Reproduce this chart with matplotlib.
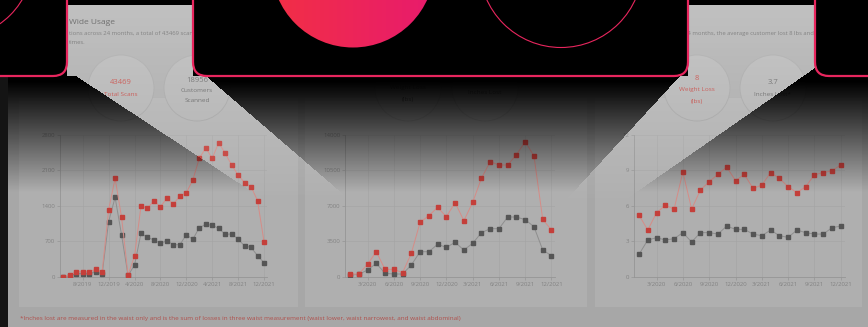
import numpy as np
import matplotlib
matplotlib.use("Agg")
import matplotlib.pyplot as plt
from matplotlib.patches import FancyBboxPatch, Rectangle, Circle
from matplotlib.path import Path

plt.rcParams['font.family'] = ['Open Sans', 'DejaVu Sans']

# ---------------- data ----------------
months_scans = ["5/2019", "6/2019", "7/2019", "8/2019", "9/2019", "10/2019", "11/2019", "12/2019",
                "1/2020", "2/2020", "3/2020", "4/2020", "5/2020", "6/2020", "7/2020", "8/2020",
                "9/2020", "10/2020", "11/2020", "12/2020", "1/2021", "2/2021", "3/2021", "4/2021",
                "5/2021", "6/2021", "7/2021", "8/2021", "9/2021", "10/2021", "11/2021", "12/2021"]
scans_total = [0, 30, 100, 100, 100, 145, 100, 1318, 1943, 1173, 33, 408, 1397, 1350, 1502, 1384,
               1548, 1436, 1594, 1660, 1911, 2339, 2543, 2339, 2648, 2438, 2207, 2009, 1858, 1779,
               1502, 692]
scans_customers = [0, 20, 60, 60, 55, 100, 55, 1087, 1568, 823, 25, 230, 856, 777, 725, 659,
                   711, 632, 632, 830, 738, 968, 1034, 1015, 955, 837, 843, 744, 606, 580, 415, 277]
scans_ticks = ["8/2019", "12/2019", "4/2020", "8/2020", "12/2020", "4/2021", "8/2021", "12/2021"]

months_loss = ["1/2020", "2/2020", "3/2020", "4/2020", "5/2020", "6/2020", "7/2020", "8/2020",
               "9/2020", "10/2020", "11/2020", "12/2020", "1/2021", "2/2021", "3/2021", "4/2021",
               "5/2021", "6/2021", "7/2021", "8/2021", "9/2021", "10/2021", "11/2021", "12/2021"]
weight_total = [264, 264, 1219, 2470, 725, 725, 395, 2306, 5369, 6028, 6852, 5929, 7313, 5534,
                7346, 9718, 11365, 11035, 11035, 12056, 13341, 11925, 5666, 4612]
inches_total = [165, 230, 659, 1318, 330, 264, 264, 1153, 2470, 2470, 3195, 2899, 3393, 2635,
                3294, 4348, 4744, 4744, 5896, 5896, 5633, 4941, 2635, 2075]
weight_avg = [5.22, 3.95, 5.42, 6.04, 5.73, 8.87, 5.73, 7.34, 8.05, 8.67, 9.29, 8.13, 8.67, 7.48,
              7.76, 8.81, 8.33, 7.62, 7.12, 7.62, 8.64, 8.81, 8.98, 9.46]
inches_avg = [1.89, 3.11, 3.30, 3.11, 3.22, 3.73, 2.94, 3.73, 3.73, 3.61, 4.29, 4.01, 4.01, 3.61,
              3.47, 3.95, 3.47, 3.33, 3.95, 3.73, 3.61, 3.61, 4.15, 4.29]
loss_ticks = ["3/2020", "6/2020", "9/2020", "12/2020", "3/2021", "6/2021", "9/2021", "12/2021"]

yticks_scans = [0, 700, 1400, 2100, 2800]
yticks_weight = [0, 3500, 7000, 10500, 14000]
yticks_avg = [0, 3, 6, 9, 12]

# ---------------- figure ----------------
W, H = 868, 327
fig = plt.figure(figsize=(W / 100, H / 100), dpi=100)
fig.patch.set_facecolor('#a7a7a7')

bg = fig.add_axes([0, 0, 1, 1], zorder=0)
bg.set_xlim(0, W); bg.set_ylim(H, 0); bg.axis('off')

PINK = '#e8265e'
# panels
for (x0, x1) in [(19, 298), (305, 587), (595, 862)]:
    bg.add_patch(Rectangle((x0, 98), x1 - x0, 209, fc='#afafaf', ec='none'))

# header texts (partly hidden behind boxes)
bg.text(69, 23, "Wide Usage", fontsize=6, color='#3c3c3c', va='center')
bg.text(69, 34, "tions across 24 months, a total of 43469 scans were performed by",
        fontsize=4.2, color='#5a5a5a', va='center')
bg.text(69, 43, "times.", fontsize=4.2, color='#5a5a5a', va='center')
bg.text(684, 34, "24 months, the average customer lost 8 lbs and 3.7 inches",
        fontsize=4.2, color='#5a5a5a', va='center')

# stat circles
for cx in [121, 197, 408, 485, 697, 773]:
    bg.add_patch(Circle((cx, 88), 33, fc='#b0b0b0', ec='#a0a0a0', lw=0.6))
RED_T = '#c0413c'
GRY_T = '#5e5e5e'
bg.text(121, 82, "43469", fontsize=5.5, color=RED_T, ha='center', va='center')
bg.text(121, 94, "Total Scans", fontsize=4.6, color=RED_T, ha='center', va='center')
bg.text(197, 80, "18956", fontsize=5.5, color=GRY_T, ha='center', va='center')
bg.text(197, 90, "Customers", fontsize=4.6, color=GRY_T, ha='center', va='center')
bg.text(197, 100, "Scanned", fontsize=4.6, color=GRY_T, ha='center', va='center')
bg.text(408, 88, "Weight Loss", fontsize=4.6, color=GRY_T, ha='center', va='center')
bg.text(408, 100, "(lbs)", fontsize=4.6, color=GRY_T, ha='center', va='center')
bg.text(485, 93, "Inches Lost", fontsize=4.6, color=GRY_T, ha='center', va='center')
bg.text(697, 79, "8", fontsize=5.5, color=RED_T, ha='center', va='center')
bg.text(697, 90, "Weight Loss", fontsize=4.6, color=RED_T, ha='center', va='center')
bg.text(697, 101, "(lbs)", fontsize=4.6, color=RED_T, ha='center', va='center')
bg.text(773, 82, "3.7", fontsize=5.5, color=GRY_T, ha='center', va='center')
bg.text(773, 94, "Inches Lost*", fontsize=4.6, color=GRY_T, ha='center', va='center')

bg.text(20, 318.5, "*Inches lost are measured in the waist only and is the sum of losses in three "
        "waist measurement (waist lower, waist narrowest, and waist abdominal)",
        fontsize=4.6, color='#b0504c', va='center')


def px_axes(left, top, right, bottom):
    return fig.add_axes([left / W, 1 - bottom / H, (right - left) / W, (bottom - top) / H], zorder=1)


def style(ax, yt, xlim, tick_idx, tick_lab):
    ax.set_facecolor('none')
    ax.set_xlim(*xlim)
    ax.set_ylim(yt[0], yt[-1])
    ax.set_yticks(yt)
    ax.set_xticks(tick_idx)
    ax.set_xticklabels(tick_lab)
    for s in ['top', 'right']:
        ax.spines[s].set_visible(False)
    for s in ['left', 'bottom']:
        ax.spines[s].set_color('#959595')
        ax.spines[s].set_linewidth(0.6)
    ax.tick_params(axis='both', labelsize=4.3, labelcolor='#838383', color='#959595',
                   length=2, width=0.5, pad=1.5)
    ax.grid(True, color='#a5a5a5', lw=0.5)
    ax.set_axisbelow(True)


def draw(ax, a, b):
    x = np.arange(len(a))
    ax.plot(x, b, color='#8e8e8e', lw=0.7, marker='s', ms=2.2, mfc='#555555', mec='#555555', zorder=3)
    ax.plot(x, a, color='#d68c87', lw=0.7, marker='s', ms=2.2, mfc='#c43f3a', mec='#c43f3a', zorder=4)


ax1 = px_axes(60, 135, 267, 276.7)
draw(ax1, scans_total, scans_customers)
style(ax1, yticks_scans, (-0.51, 31.46), list(range(3, len(months_scans), 4)), scans_ticks)

ax2 = px_axes(345, 135, 555, 276.7)
draw(ax2, weight_total, inches_total)
style(ax2, yticks_weight, (-0.57, 23.4), list(range(2, len(months_loss), 3)), loss_ticks)

ax3 = px_axes(634, 135, 845, 276.7)
draw(ax3, weight_avg, inches_avg)
style(ax3, yticks_avg, (-0.57, 23.48), list(range(2, len(months_loss), 3)), loss_ticks)

# ---------------- overlay ----------------
ov = fig.add_axes([0, 0, 1, 1], zorder=3)
ov.set_xlim(0, W); ov.set_ylim(H, 0); ov.axis('off')

yy, xx = np.mgrid[0:H, 0:W] + 0.5
dark_a = np.clip((192 - yy) / 110.0, 0, 1)
beam1 = Path([(67, 0), (193, 0), (193, 76), (206, 76), (344, 195), (257, 195), (76, 76), (67, 76)])
beam2 = Path([(688, 0), (815, 0), (815, 68), (628, 198), (568, 198), (680, 76), (688, 76)])
pts = np.column_stack([xx.ravel(), yy.ravel()])
mask = (beam1.contains_points(pts) | beam2.contains_points(pts)).reshape(H, W)
light_a = np.clip(0.3 * (1 - yy / 210.0), 0, 1)
rgba = np.zeros((H, W, 4))
rgba[..., 0:3] = np.where(mask[..., None], 1.0, 0.0)
rgba[..., 3] = np.where(mask, light_a, dark_a)
ov.imshow(rgba, extent=(0, W, H, 0), interpolation='bilinear', aspect='auto', zorder=1)

ov.add_patch(Rectangle((0, 0), W, 4.5, fc='black', ec='none', zorder=2))
ov.add_patch(Rectangle((0, 76), 8, H, fc='#141414', ec='none', zorder=2))

boxA = FancyBboxPatch((-40, -40), 107, 116, boxstyle="round,pad=0,rounding_size=14",
                      fc='black', ec=PINK, lw=1.6, zorder=3)
boxB = FancyBboxPatch((193, -40), 495, 116, boxstyle="round,pad=0,rounding_size=14",
                      fc='black', ec=PINK, lw=1.6, zorder=3)
boxC = FancyBboxPatch((815, -40), 100, 116, boxstyle="round,pad=0,rounding_size=14",
                      fc='black', ec=PINK, lw=1.6, zorder=3)
for b in (boxA, boxB, boxC):
    ov.add_patch(b)

arcA = Circle((-45, -40), 78, fill=False, ec=PINK, lw=0.8, zorder=4)
ov.add_patch(arcA)
arcA.set_clip_path(boxA)

circ = Circle((353, -34), 81.5, transform=ov.transData)
grad = np.linspace(0, 1, 256)[None, :]
c0 = np.array([0xf2, 0x2f, 0x45]) / 255.0
c1 = np.array([0xe8, 0x1b, 0x6d]) / 255.0
gimg = (c0[None, None, :] * (1 - grad[..., None]) + c1[None, None, :] * grad[..., None])
gimg = np.repeat(gimg, 4, axis=0)
im = ov.imshow(gimg, extent=(271, 435, 48, -116), aspect='auto', zorder=4, interpolation='bilinear')
im.set_clip_path(circ)

ov.add_patch(Circle((561, -34), 81.5, fill=False, ec=PINK, lw=0.8, zorder=4))
ov.set_xlim(0, W); ov.set_ylim(H, 0)

fig.savefig("out.png", dpi=100)
